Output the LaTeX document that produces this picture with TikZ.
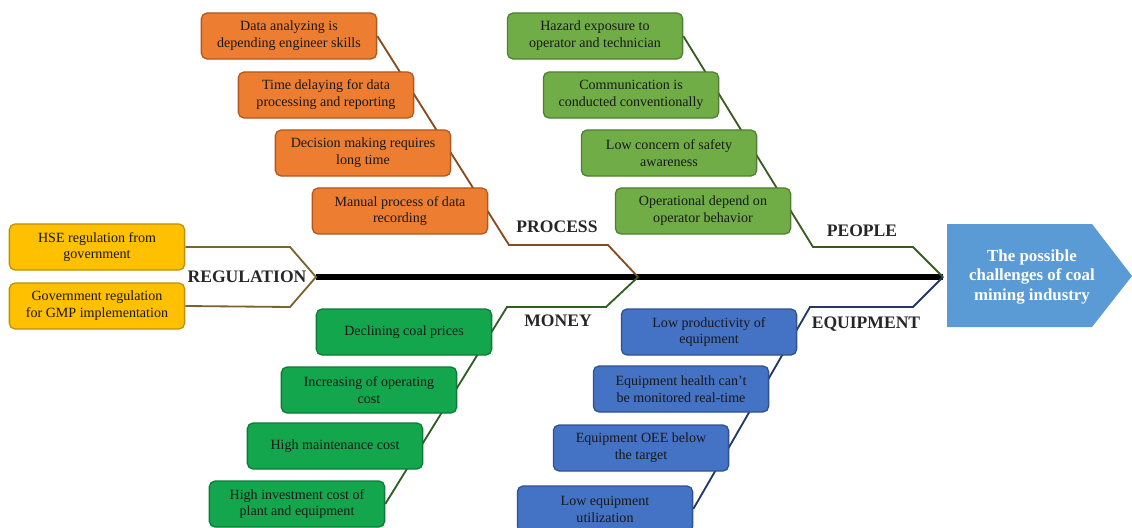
\documentclass[tikz,border=0pt]{standalone}
\usepackage{fontspec}
\setmainfont{Liberation Serif}
\usetikzlibrary{backgrounds}

\definecolor{procfill}{HTML}{ED7D31}
\definecolor{procedge}{HTML}{B0581F}
\definecolor{procline}{HTML}{8A4A1E}
\definecolor{peopfill}{HTML}{70AD47}
\definecolor{peopedge}{HTML}{4F7F30}
\definecolor{peopline}{HTML}{3A5A22}
\definecolor{monfill}{HTML}{14A64C}
\definecolor{monedge}{HTML}{0C7A36}
\definecolor{monline}{HTML}{2E5E22}
\definecolor{equfill}{HTML}{4472C4}
\definecolor{equedge}{HTML}{2F528F}
\definecolor{equline}{HTML}{203864}
\definecolor{regfill}{HTML}{FFC000}
\definecolor{regedge}{HTML}{BF9000}
\definecolor{regline}{HTML}{7A6330}
\definecolor{headfill}{HTML}{5B9BD5}

\tikzset{
  cause/.style={draw, line width=0.9pt, rounded corners=4pt, minimum width=4.38cm, minimum height=1.15cm, align=center, inner sep=1pt, text=black!90, font=\fontsize{10}{12}\selectfont},
  procbox/.style={cause, fill=procfill, draw=procedge},
  peopbox/.style={cause, fill=peopfill, draw=peopedge},
  monbox/.style={cause, fill=monfill, draw=monedge},
  equbox/.style={cause, fill=equfill, draw=equedge},
  regbox/.style={cause, fill=regfill, draw=regedge},
  bone/.style={line width=1.3pt, line join=miter},
  bonelabel/.style={font=\fontsize{12.5}{14}\selectfont\bfseries, text=black!85},
}

\begin{document}
\begin{tikzpicture}[x=0.025cm,y=-0.025cm]
\useasboundingbox (0,0) rectangle (1132,527);

\coordinate (tail) at (316,277);
\coordinate (jmid) at (638,277);
\coordinate (jhead) at (943,277);

\fill[headfill] (947,224) -- (1092,224) -- (1132,276) -- (1092,327) -- (947,327) -- cycle;
\node[align=center, text=white, font=\fontsize{12}{14}\selectfont\bfseries] (head) at (1032,277) {The possible\\challenges of coal\\mining industry};

\node[procbox] (proc1) at (289,36) {Data analyzing is\\depending engineer skills};
\node[procbox] (proc2) at (326,95) {Time delaying for data\\processing and reporting};
\node[procbox] (proc3) at (363,153) {Decision making requires\\long time};
\node[procbox] (proc4) at (400,211) {Manual process of data\\recording};

\node[peopbox] (peop1) at (595,36) {Hazard exposure to\\operator and technician};
\node[peopbox] (peop2) at (631,95) {Communication is\\conducted conventionally};
\node[peopbox] (peop3) at (669,153) {Low concern of safety\\awareness};
\node[peopbox] (peop4) at (703,211) {Operational depend on\\operator behavior};

\node[monbox] (mon1) at (404,332) {Declining coal prices};
\node[monbox] (mon2) at (369,390) {Increasing of operating\\cost};
\node[monbox] (mon3) at (335,446) {High maintenance cost};
\node[monbox] (mon4) at (297,504) {High investment cost of\\plant and equipment};

\node[equbox] (equ1) at (709,332) {Low productivity of\\equipment};
\node[equbox] (equ2) at (681,389) {Equipment health can't\\be monitored real-time};
\node[equbox] (equ3) at (641,448) {Equipment OEE below\\the target};
\node[equbox] (equ4) at (605,509) {Low equipment\\utilization};

\node[regbox] (reg1) at (97,247) {HSE regulation from\\government};
\node[regbox] (reg2) at (97,306) {Government regulation\\for GMP implementation};

\begin{scope}[on background layer]
\draw[line width=3.8pt] (tail) -- (jhead);
\draw[bone, draw=procline] (proc1.east) -- (509,245) -- (608,245) -- (jmid);
\draw[bone, draw=peopline] (peop1.east) -- (813,247) -- (913,247) -- (jhead);
\draw[bone, draw=monline] (mon4.east) -- (507,307) -- (606,307) -- (jmid);
\draw[bone, draw=equline] (equ4.east) -- (810,307) -- (913,307) -- (jhead);
\draw[bone, draw=regline] (reg1.east) -- (290,247) -- (tail) -- (290,307) -- (reg2.east);
\end{scope}

\node[bonelabel] (regulation) at (247,277) {REGULATION};
\node[bonelabel] (process) at (557,227) {PROCESS};
\node[bonelabel] (people) at (862,231) {PEOPLE};
\node[bonelabel] (money) at (558,321) {MONEY};
\node[bonelabel] (equipment) at (866,324) {EQUIPMENT};

\end{tikzpicture}
\end{document}
